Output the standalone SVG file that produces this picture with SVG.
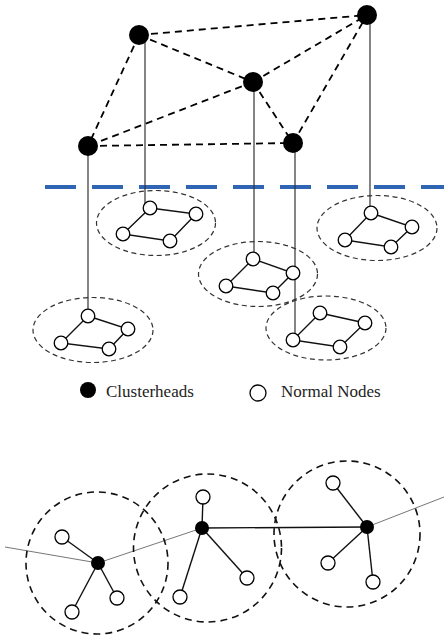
<svg xmlns="http://www.w3.org/2000/svg" width="444" height="637" viewBox="0 0 444 637">
<style>
.ch{fill:#000}
.nn{fill:#fff;stroke:#000;stroke-width:1.3}
.dl{stroke:#000;stroke-width:1.8;stroke-dasharray:7,5;fill:none}
.vl{stroke:#333;stroke-width:1.2}
.el{fill:none;stroke:#333;stroke-width:1.2;stroke-dasharray:5,3.5}
.cl{fill:none;stroke:#111;stroke-width:1.6;stroke-dasharray:7,5}
.ed{stroke:#111;stroke-width:1.4}
.gl{stroke:#777;stroke-width:1}
.bl{stroke:#2f66b4;stroke-width:4;stroke-dasharray:31,16}
.lg{font-family:"Liberation Serif",serif;font-size:17px;fill:#222}
</style>
<rect width="444" height="637" fill="#fff"/>
<g id="connectors">
<line class="bl" x1="45" y1="187" x2="444" y2="187"/>
<line class="dl" x1="139" y1="35" x2="367" y2="15"/>
<line class="dl" x1="139" y1="35" x2="253" y2="82"/>
<line class="dl" x1="139" y1="35" x2="88" y2="146"/>
<line class="dl" x1="253" y1="82" x2="367" y2="15"/>
<line class="dl" x1="253" y1="82" x2="88" y2="146"/>
<line class="dl" x1="253" y1="82" x2="293" y2="143"/>
<line class="dl" x1="293" y1="143" x2="367" y2="15"/>
<line class="dl" x1="88" y1="146" x2="293" y2="143"/>
<line class="vl" x1="88" y1="146" x2="88" y2="316"/>
<line class="vl" x1="145" y1="35" x2="145" y2="205"/>
<line class="vl" x1="254" y1="82" x2="254" y2="259"/>
<line class="vl" x1="295" y1="143" x2="295" y2="340"/>
<line class="vl" x1="370" y1="15" x2="370" y2="213"/>
<polygon class="ed" fill="none" points="150,208 196,214 170,241 123,234"/>
<polygon class="ed" fill="none" points="253,259 293,273 273,293 226,286"/>
<polygon class="ed" fill="none" points="371,213 412,227 391,247 345,240"/>
<polygon class="ed" fill="none" points="88,316 128,329 109,349 61,343"/>
<polygon class="ed" fill="none" points="320,313 365,323 340,347 293,340"/>
<polyline class="gl" fill="none" points="5,547 98,563 202,528"/>
<line class="gl" x1="367" y1="527" x2="444" y2="497"/>
<line class="ed" stroke-width="1.8" x1="202" y1="528" x2="367" y2="527"/>
<line class="ed" x1="98" y1="563" x2="62" y2="537"/>
<line class="ed" x1="98" y1="563" x2="117" y2="598"/>
<line class="ed" x1="98" y1="563" x2="72" y2="612"/>
<line class="ed" x1="202" y1="528" x2="203" y2="497"/>
<line class="ed" x1="202" y1="528" x2="247" y2="578"/>
<line class="ed" x1="202" y1="528" x2="180" y2="597"/>
<line class="ed" x1="367" y1="527" x2="333" y2="483"/>
<line class="ed" x1="367" y1="527" x2="328" y2="563"/>
<line class="ed" x1="367" y1="527" x2="373" y2="582"/>
</g>
<g id="range-ellipses">
<ellipse class="el" cx="156" cy="223" rx="59.5" ry="32.5"/>
<ellipse class="el" cx="258" cy="274" rx="59.5" ry="32.5"/>
<ellipse class="el" cx="377" cy="228" rx="60" ry="32.5"/>
<ellipse class="el" cx="93" cy="330" rx="60" ry="32.5"/>
<ellipse class="el" cx="326" cy="328" rx="60" ry="32"/>
<circle class="cl" cx="97" cy="563" r="71"/>
<circle class="cl" cx="207.5" cy="548" r="74"/>
<circle class="cl" cx="347" cy="534" r="73"/>
</g>
<g id="clusterheads-top">
<circle class="ch" cx="139" cy="35" r="10"/>
<circle class="ch" cx="367" cy="15" r="10"/>
<circle class="ch" cx="253" cy="82" r="10"/>
<circle class="ch" cx="88" cy="146" r="10"/>
<circle class="ch" cx="293" cy="143" r="10"/>
</g>
<g id="cluster1">
<circle class="nn" cx="150" cy="208" r="6.8"/>
<circle class="nn" cx="196" cy="214" r="6.8"/>
<circle class="nn" cx="170" cy="241" r="6.8"/>
<circle class="nn" cx="123" cy="234" r="6.8"/>
</g>
<g id="cluster2">
<circle class="nn" cx="253" cy="259" r="6.8"/>
<circle class="nn" cx="293" cy="273" r="6.8"/>
<circle class="nn" cx="273" cy="293" r="6.8"/>
<circle class="nn" cx="226" cy="286" r="6.8"/>
</g>
<g id="cluster3">
<circle class="nn" cx="371" cy="213" r="6.8"/>
<circle class="nn" cx="412" cy="227" r="6.8"/>
<circle class="nn" cx="391" cy="247" r="6.8"/>
<circle class="nn" cx="345" cy="240" r="6.8"/>
</g>
<g id="cluster4">
<circle class="nn" cx="88" cy="316" r="6.8"/>
<circle class="nn" cx="128" cy="329" r="6.8"/>
<circle class="nn" cx="109" cy="349" r="6.8"/>
<circle class="nn" cx="61" cy="343" r="6.8"/>
</g>
<g id="cluster5">
<circle class="nn" cx="320" cy="313" r="6.8"/>
<circle class="nn" cx="365" cy="323" r="6.8"/>
<circle class="nn" cx="340" cy="347" r="6.8"/>
<circle class="nn" cx="293" cy="340" r="6.8"/>
</g>
<g id="legend">
<circle class="ch" cx="88" cy="390" r="8" fill="#1a1a1a"/>
<text class="lg" x="106" y="397">Clusterheads</text>
<circle class="nn" cx="258" cy="393" r="8"/>
<text class="lg" x="281" y="397">Normal Nodes</text>
</g>
<g id="bottom-cluster1">
<circle class="ch" cx="98" cy="563" r="7"/>
<circle class="nn" cx="62" cy="537" r="7"/>
<circle class="nn" cx="117" cy="598" r="7"/>
<circle class="nn" cx="72" cy="612" r="7"/>
</g>
<g id="bottom-cluster2">
<circle class="ch" cx="202" cy="528" r="7"/>
<circle class="nn" cx="203" cy="497" r="7"/>
<circle class="nn" cx="247" cy="578" r="7"/>
<circle class="nn" cx="180" cy="597" r="7"/>
</g>
<g id="bottom-cluster3">
<circle class="ch" cx="367" cy="527" r="7"/>
<circle class="nn" cx="333" cy="483" r="7"/>
<circle class="nn" cx="328" cy="563" r="7"/>
<circle class="nn" cx="373" cy="582" r="7"/>
</g>
</svg>
